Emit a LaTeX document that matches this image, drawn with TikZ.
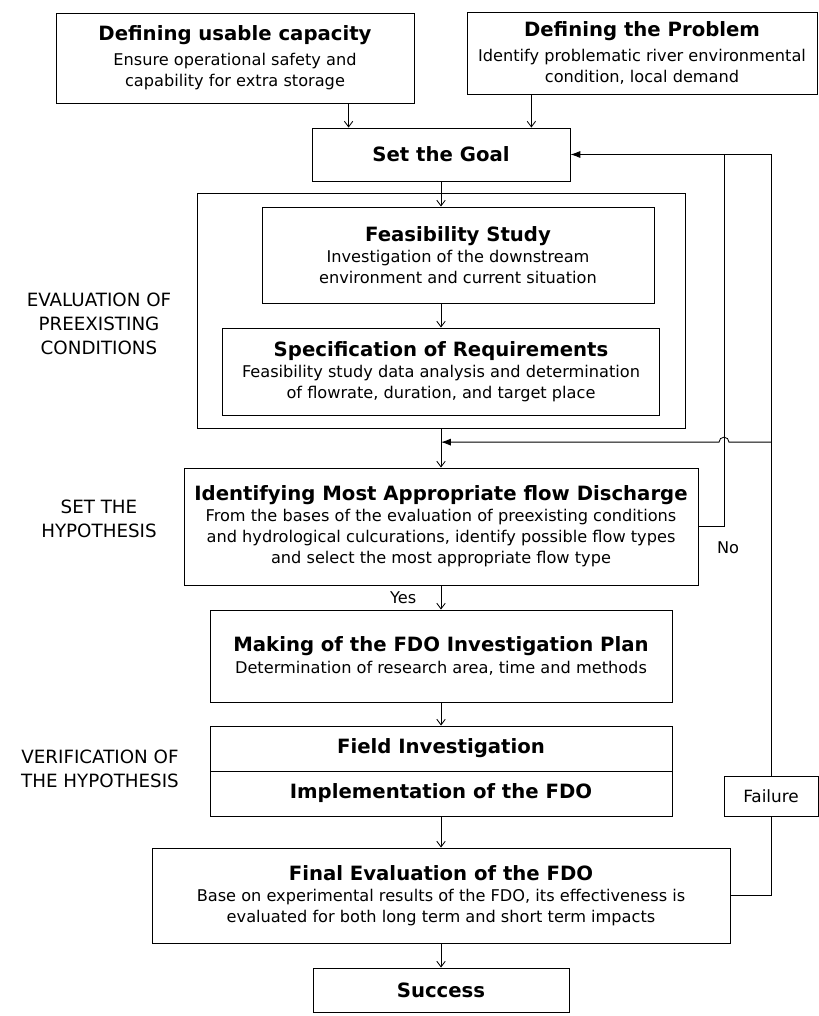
\documentclass[tikz,border=0pt]{standalone}
\usepackage{fontspec}
\setmainfont{DejaVu Sans}
\usetikzlibrary{arrows.meta,calc}

\newcommand{\boxtitle}[1]{{\fontsize{14}{17}\selectfont\bfseries #1}}

\begin{document}
\begin{tikzpicture}[x=0.025cm, y=-0.025cm, line width=0.6pt,
    every node/.style={font=\fontsize{11.5}{15}\selectfont},
    stage/.style={draw, align=center, inner sep=0pt},
    phase/.style={align=center, font=\fontsize{13}{17}\selectfont},
    flow/.style={-{Straight Barb[length=4pt,width=6pt]}},
    back/.style={-{Latex[length=7pt,width=5pt]}}]
    \useasboundingbox (0,0) rectangle (819,1016);

    % Starting points
    \node[stage, minimum width=8.95cm, minimum height=2.25cm] (usable) at (235,58)
        {\boxtitle{Defining usable capacity}\\[3pt]Ensure operational safety and\\capability for extra storage};
    \node[stage, minimum width=8.75cm, minimum height=2.05cm] (problem) at (642,53)
        {\boxtitle{Defining the Problem}\\[3pt]Identify problematic river environmental\\condition, local demand};

    \node[stage, minimum width=6.45cm, minimum height=1.325cm] (goal) at (441,154.5) {\boxtitle{Set the Goal}};

    % Evaluation of preexisting conditions
    \node[stage, minimum width=12.2cm, minimum height=5.875cm] (evalframe) at (441,310.5) {};
    \node[stage, minimum width=9.8cm, minimum height=2.4cm] (feas) at (458,255)
        {\boxtitle{Feasibility Study}\\Investigation of the downstream\\environment and current situation};
    \node[stage, minimum width=10.925cm, minimum height=2.175cm] (spec) at (441,371.5)
        {\boxtitle{Specification of Requirements}\\Feasibility study data analysis and determination\\of flowrate, duration, and target place};

    % Hypothesis
    \node[stage, minimum width=12.85cm, minimum height=2.925cm] (ident) at (441,526.5)
        {\boxtitle{Identifying Most Appropriate flow Discharge}\\From the bases of the evaluation of preexisting conditions\\and hydrological culcurations, identify possible flow types\\and select the most appropriate flow type};
    \node[stage, minimum width=11.55cm, minimum height=2.3cm] (plan) at (441,656)
        {\boxtitle{Making of the FDO Investigation Plan}\\Determination of research area, time and methods};

    % Verification
    \node[stage, minimum width=11.55cm, minimum height=1.125cm] (field) at (441,748.5) {\boxtitle{Field Investigation}};
    \node[stage, minimum width=11.55cm, minimum height=1.125cm] (impl) at (441,793.5) {\boxtitle{Implementation of the FDO}};

    \node[stage, minimum width=14.45cm, minimum height=2.375cm] (final) at (441,895.5)
        {\boxtitle{Final Evaluation of the FDO}\\Base on experimental results of the FDO, its effectiveness is\\evaluated for both long term and short term impacts};
    \node[stage, minimum width=6.4cm, minimum height=1.1cm] (success) at (441,990) {\boxtitle{Success}};
    \node[stage, minimum width=2.35cm, minimum height=1cm, font=\fontsize{12}{15}\selectfont] (fail) at (771,796) {Failure};

    % Phase labels
    \node[phase] (evallabel) at (99,324) {EVALUATION OF\\PREEXISTING\\CONDITIONS};
    \node[phase] (hyplabel) at (99,519) {SET THE\\HYPOTHESIS};
    \node[phase] (verlabel) at (100,769) {VERIFICATION OF\\THE HYPOTHESIS};

    % Main flow
    \coordinate (g1) at ($(goal.north west)!0.143!(goal.north east)$);
    \coordinate (g2) at ($(goal.north west)!0.849!(goal.north east)$);
    \draw[flow] (usable.south -| g1) -- (g1);
    \draw[flow] (problem.south -| g2) -- (g2);
    \draw[flow] (goal.south) -- (goal.south |- feas.north);
    \draw[flow] (goal.south |- feas.south) -- (spec.north);
    \draw[flow] (evalframe.south) -- (ident.north);
    \draw[flow] (ident.south) -- node[left=14pt] (yeslabel) {Yes} (plan.north);
    \draw[flow] (plan.south) -- (field.north);
    \draw[flow] (impl.south) -- (final.north);
    \draw[flow] (final.south) -- (success.north);

    % Feedback: No
    \coordinate (nox) at (724,0);
    \draw (ident.east) -| (nox |- goal.east);
    \node (nolabel) at (728,548) {No};

    % Feedback: Failure
    \coordinate (retin) at ($(evalframe.south)!0.35!(ident.north)$);
    \draw (final.east) -| (fail.south);
    \draw[back] (fail.north) |- (goal.east);
    \draw[back] (fail.north |- retin) -- ($(nox |- retin)+(5,0)$)
        arc[start angle=0, end angle=180, radius=0.125cm] -- (retin);
\end{tikzpicture}
\end{document}
